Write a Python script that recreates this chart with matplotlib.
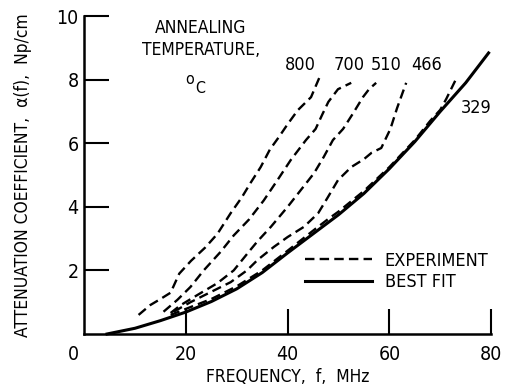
import matplotlib
matplotlib.use("Agg")
import matplotlib.pyplot as plt

# Fonts: narrow grotesque like the original scan
plt.rcParams["font.family"] = ["Liberation Sans Narrow", "DejaVu Sans"]
plt.rcParams["font.stretch"] = "condensed"

# -------------------------------------------------
# Data (frequency MHz, attenuation Np/cm)
# -------------------------------------------------
f_800 = [10.7, 13.0, 15.0, 17.0, 18.7, 21.0, 23.8, 26.2, 28.8, 31.0, 32.7,
         34.7, 36.5, 38.3, 40.0, 42.0, 44.6, 46.2]
a_800 = [0.6, 0.91, 1.1, 1.3, 1.9, 2.3, 2.72, 3.15, 3.8, 4.3, 4.75,
         5.25, 5.8, 6.2, 6.6, 7.04, 7.45, 8.05]

f_700 = [15.6, 18.3, 20.9, 23.5, 26.8, 29.4, 32.4, 35.3, 38.0, 40.6, 43.6,
         45.5, 46.8, 48.0, 49.9, 52.5]
a_700 = [0.7, 1.07, 1.48, 2.0, 2.58, 3.1, 3.6, 4.2, 4.84, 5.47, 6.1,
         6.45, 6.9, 7.3, 7.7, 7.9]

f_510 = [17.0, 18.9, 22.3, 26.2, 29.4, 32.7, 34.1, 36.7, 40.0, 42.6, 45.2,
         47.1, 48.9, 50.9, 52.9, 54.8, 56.0, 57.4]
a_510 = [0.66, 0.9, 1.23, 1.6, 2.0, 2.65, 2.92, 3.37, 4.0, 4.53, 5.06,
         5.57, 6.1, 6.45, 6.95, 7.45, 7.7, 7.9]

f_466 = [17.6, 20.9, 24.9, 28.8, 32.0, 34.1, 37.3, 40.0, 43.2, 46.0, 47.9,
         49.9, 52.5, 55.0, 56.5, 58.4, 60.2, 61.5, 63.3]
a_466 = [0.7, 1.0, 1.32, 1.63, 2.0, 2.33, 2.74, 3.05, 3.37, 3.8, 4.3,
         4.84, 5.25, 5.5, 5.7, 5.85, 6.45, 7.1, 7.9]

f_329 = [17.0, 20.0, 25.0, 30.0, 35.0, 40.0, 45.0, 48.0, 50.0, 55.0, 60.0,
         65.0, 68.0, 70.0, 71.2, 73.2]
a_329 = [0.6, 0.79, 1.1, 1.5, 2.0, 2.62, 3.25, 3.62, 3.85, 4.5, 5.25,
         6.1, 6.7, 7.05, 7.4, 8.05]

f_fit = [4.5, 10, 15, 20, 25, 30, 35, 40, 45, 50, 55, 60, 65, 70, 75, 79.5]
a_fit = [0.0, 0.18, 0.42, 0.69, 1.02, 1.42, 1.93, 2.55, 3.15, 3.75, 4.42,
         5.2, 6.05, 7.0, 7.9, 8.84]

experiments = [
    ("800", f_800, a_800),
    ("700", f_700, a_700),
    ("510", f_510, a_510),
    ("466", f_466, a_466),
    ("329", f_329, a_329),
]

# label positions for each annealing temperature (data coords)
temp_labels = {"800": (42.6, 8.45), "700": (52.1, 8.45), "510": (59.4, 8.45),
               "466": (67.4, 8.45), "329": (77.1, 7.12)}

x_ticks = [20, 40, 60, 80]
y_ticks = [2, 4, 6, 8, 10]


# -------------------------------------------------
# Build chart
# -------------------------------------------------
def main():
    fig = plt.figure(figsize=(5.1, 3.92), dpi=100)
    ax = fig.add_axes([0.165, 0.148, 0.798, 0.811])

    dash_line = None
    for name, f, a in experiments:
        dash_line, = ax.plot(f, a, color="black", lw=1.7, dashes=(4, 2.2),
                             solid_capstyle="butt", clip_on=False)
    fit_line, = ax.plot(f_fit, a_fit, color="black", lw=2.2, clip_on=False)

    for name, (x, y) in temp_labels.items():
        ax.text(x, y, name, fontsize=13, ha="center", va="center")

    ax.text(22.9, 9.62, "ANNEALING", fontsize=12.5, ha="center", va="center")
    ax.text(22.9, 8.93, "TEMPERATURE,", fontsize=12.5, ha="center", va="center")
    ax.text(20.7, 8.0, "o", fontsize=11.5, ha="center", va="center")
    ax.text(22.8, 7.72, "C", fontsize=11.5, ha="center", va="center")

    ax.legend([dash_line, fit_line], ["EXPERIMENT", "BEST FIT"],
              loc="center left", bbox_to_anchor=(0.543, 0.197),
              frameon=False, fontsize=13, handlelength=3.7,
              handletextpad=0.7, labelspacing=0.2, borderpad=0,
              borderaxespad=0)

    ax.set_xlim(0, 80)
    ax.set_ylim(0, 10)
    ax.set_xticks(x_ticks)
    ax.set_yticks(y_ticks)
    ax.tick_params(direction="in", length=18, width=1.5, labelsize=14)
    ax.tick_params(axis="x", pad=8)
    ax.tick_params(axis="y", pad=4)
    ax.text(-2.2, -0.66, "0", fontsize=14, ha="center", va="center")

    for side in ["top", "right"]:
        ax.spines[side].set_visible(False)
    for side in ["left", "bottom"]:
        ax.spines[side].set_linewidth(1.8)

    ax.set_xlabel("FREQUENCY,  f,  MHz", fontsize=12.5)
    ax.xaxis.set_label_coords(0.499, -0.108)
    ax.set_ylabel("ATTENUATION COEFFICIENT,  \u03b1(f),  Np/cm", fontsize=12.5)
    ax.yaxis.set_label_coords(-0.128, 0.5)

    fig.savefig("out.png", dpi=100)
    plt.close(fig)


if __name__ == "__main__":
    main()
